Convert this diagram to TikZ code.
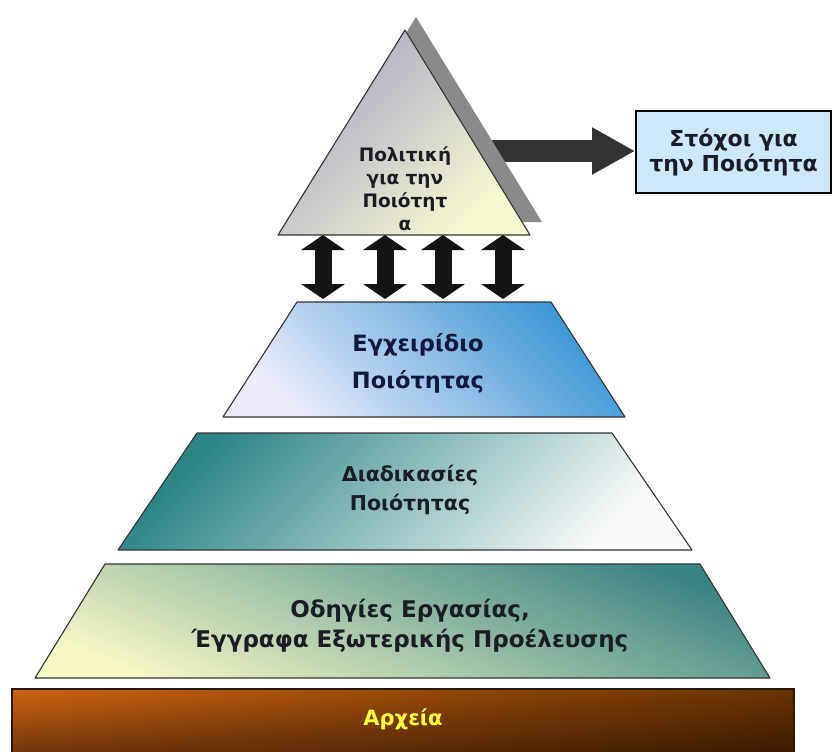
\documentclass[tikz,border=0pt]{standalone}
\usepackage{fontspec}
\setmainfont{DejaVu Sans}
\usetikzlibrary{arrows.meta,fadings}
\definecolor{txt}{HTML}{1C1C26}
\definecolor{navy}{HTML}{14183A}
\definecolor{shadowgray}{HTML}{8A8A8A}
\definecolor{triA}{HTML}{A6A6C6}
\definecolor{triB}{HTML}{FAFAD2}
\definecolor{blueA}{HTML}{3A96D6}
\definecolor{blueB}{HTML}{ECECFA}
\definecolor{tealA}{HTML}{2B8585}
\definecolor{tealB}{HTML}{FAFAFA}
\definecolor{greenA}{HTML}{3A8484}
\definecolor{greenB}{HTML}{F6F6C6}
\definecolor{boxblue}{HTML}{CDE8FA}
\definecolor{brownA}{HTML}{D06412}
\definecolor{brownB}{HTML}{6A3300}
\definecolor{darkarrow}{HTML}{333333}
\definecolor{yel}{HTML}{FFFF3C}
\tikzset{
  layer/.style={draw=black!80, line width=1.1pt, line join=round},
  lbl/.style={font=\bfseries, text=txt, align=center, inner sep=0pt},
  dbl/.style={line width=17pt, draw=black!92,
    {Triangle[length=15pt,width=43pt]}-{Triangle[length=15pt,width=43pt]}},
}
\begin{document}
\begin{tikzpicture}[x=1pt,y=-1pt]
\useasboundingbox (0,0) rectangle (833,752);

% goals box
\node[draw=black, line width=1.6pt, fill=boxblue, minimum width=195pt, minimum height=82pt,
      lbl, font=\bfseries\fontsize{22}{25}\selectfont] (goals) at (733.5,152)
      {Στόχοι για\\την Ποιότητα};

% arrow from triangle to goals (behind the shadow)
\coordinate (arrstart) at (470,151);
\draw[line width=22pt, darkarrow, -{Triangle[length=43pt,width=44pt]}] (arrstart) -- (goals.west |- arrstart);

% shadow of the triangle
\fill[shadowgray] (416,17) -- (542,222) -- (290,222) -- cycle;
% triangle
\path[layer, top color=triA, bottom color=triB, shading angle=45]
  (405,30) -- (530,235) -- (278,235) -- cycle;
\node[lbl, font=\bfseries\fontsize{18.5}{23}\selectfont] (policy) at (405,189)
  {Πολιτική\\για την\\Ποιότητ\\α};

% layer 1
\path[layer, top color=blueA, bottom color=blueB, shading angle=-45]
  (297,302) -- (551,302) -- (625,417) -- (223,417) -- cycle;
\node[lbl, text=navy, font=\bfseries\fontsize{22.5}{37}\selectfont] (manual) at (418,363)
  {Εγχειρίδιο\\Ποιότητας};

% layer 2
\path[layer, top color=tealA, bottom color=tealB, shading angle=45]
  (197,433) -- (612,433) -- (692,550) -- (118,550) -- cycle;
\node[lbl, font=\bfseries\fontsize{20.5}{29}\selectfont] (proc) at (410,490)
  {Διαδικασίες\\Ποιότητας};

% layer 3
\path[layer, top color=greenA, bottom color=greenB, shading angle=-22]
  (105,564) -- (700,564) -- (770,678) -- (35,678) -- cycle;
\node[lbl, font=\bfseries\fontsize{23}{30}\selectfont] (instr) at (410,626)
  {Οδηγίες Εργασίας,\\Έγγραφα Εξωτερικής Προέλευσης};

% records bar
\shade[left color=brownA, right color=brownB] (12,689) rectangle (794,752);
\fill[black, opacity=0.45, path fading=north] (12,689) rectangle (794,752);
\draw[line width=1.2pt, draw=black!80!brown] (12,752) -- (12,689) -- (794,689) -- (794,752);
\node[lbl, text=yel, font=\bfseries\fontsize{21}{24}\selectfont] (records) at (403,719) {Αρχεία};

% double arrows between triangle and manual
\foreach \i/\x in {1/323,2/385,3/443,4/503}{
  \coordinate (up\i) at (\x,235);
  \coordinate (dn\i) at (\x,299);
  \draw[dbl] (up\i) -- (dn\i);
}
\end{tikzpicture}
\end{document}
